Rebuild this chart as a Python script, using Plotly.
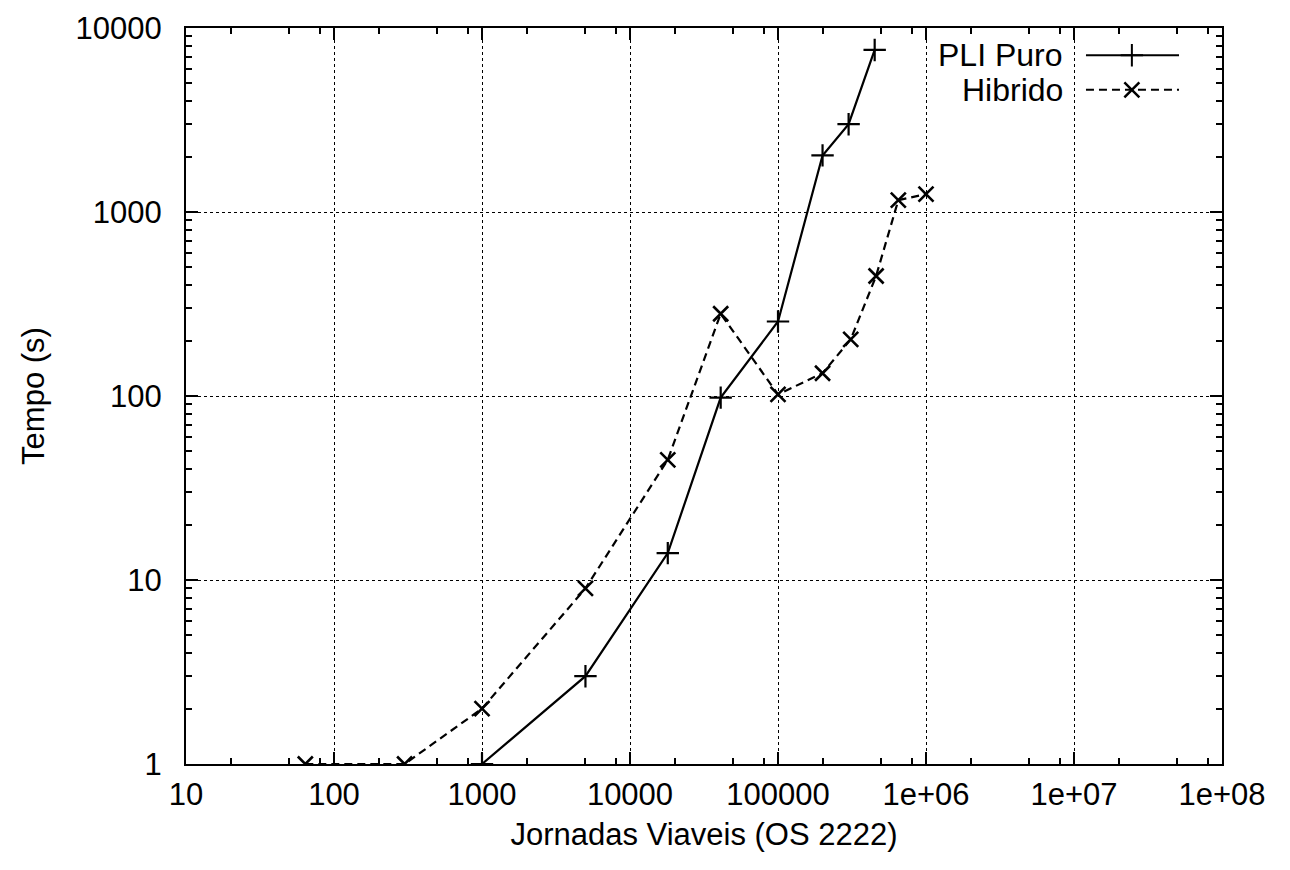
import plotly.graph_objects as go

# Data
pli_x = [1000, 5000, 18000, 41000, 100000, 200000, 300000, 450000]
pli_y = [1, 3, 14, 98, 254, 2030, 3000, 7600]

hib_x = [64, 300, 1000, 5000, 18000, 41000, 100000, 200000, 310000, 460000, 650000, 1000000]
hib_y = [1, 1, 2, 9, 45, 280, 102, 133, 203, 449, 1160, 1250]

x_tickvals = [10, 100, 1000, 10000, 100000, 1e6, 1e7, 1e8]
x_ticktext = ["10", "100", "1000", "10000", "100000", "1e+06", "1e+07", "1e+08"]
y_tickvals = [1, 10, 100, 1000, 10000]
y_ticktext = ["1", "10", "100", "1000", "10000"]

x_minor = [m * 10 ** k for k in range(1, 8) for m in (2, 5, 8)]
y_minor = [m * 10 ** k for k in range(0, 4) for m in range(2, 10)]

FONT = "Liberation Sans, Arial, Helvetica, sans-serif"
FS = 31

fig = go.Figure()

fig.add_trace(go.Scatter(
    x=pli_x, y=pli_y, mode="lines+markers", name="PLI Puro",
    line=dict(color="black", width=2.2),
    marker=dict(symbol="cross-thin", size=16, line=dict(color="black", width=2.2)),
    showlegend=False,
))
fig.add_trace(go.Scatter(
    x=hib_x, y=hib_y, mode="lines+markers", name="Hibrido",
    line=dict(color="black", width=2.2, dash="8px,5px"),
    marker=dict(symbol="x-thin", size=15, line=dict(color="black", width=2.6)),
    showlegend=False,
))

# Legend (gnuplot style: text, then sample) on overlay axes
leg_y = [0.963, 0.916]
fig.add_trace(go.Scatter(
    x=[0.8687, 0.9585], y=[leg_y[0], leg_y[0]], xaxis="x2", yaxis="y2",
    mode="lines", line=dict(color="black", width=2), showlegend=False, hoverinfo="skip"))
fig.add_trace(go.Scatter(
    x=[0.913], y=[leg_y[0]], xaxis="x2", yaxis="y2", mode="markers",
    marker=dict(symbol="cross-thin", size=16, line=dict(color="black", width=2)),
    showlegend=False, hoverinfo="skip"))
fig.add_trace(go.Scatter(
    x=[0.8687, 0.9585], y=[leg_y[1], leg_y[1]], xaxis="x2", yaxis="y2",
    mode="lines", line=dict(color="black", width=2, dash="8px,5px"), showlegend=False, hoverinfo="skip"))
fig.add_trace(go.Scatter(
    x=[0.913], y=[leg_y[1]], xaxis="x2", yaxis="y2", mode="markers",
    marker=dict(symbol="x-thin", size=15, line=dict(color="black", width=2.5)),
    showlegend=False, hoverinfo="skip"))

annotations = [
    dict(xref="paper", yref="paper", x=0.8485, y=leg_y[0], text="PLI Puro", showarrow=False,
         xanchor="right", yanchor="middle", font=dict(family=FONT, size=32, color="black")),
    dict(xref="paper", yref="paper", x=0.8485, y=leg_y[1], text="Hibrido", showarrow=False,
         xanchor="right", yanchor="middle", font=dict(family=FONT, size=32, color="black")),
]

shapes = [
    dict(type="rect", xref="paper", yref="paper", x0=0.708, x1=0.997, y0=0.89, y1=0.997,
         fillcolor="white", line=dict(width=0), layer="between"),
]

axis_common = dict(
    type="log", showline=True, linecolor="black", linewidth=2, mirror="allticks",
    ticks="inside", ticklen=12, tickwidth=1.5, tickcolor="black",
    showgrid=True, gridcolor="black", gridwidth=1.3, griddash="dot",
    zeroline=False, tickmode="array", ticklabeloverflow="allow", automargin=False,
    tickfont=dict(family=FONT, size=FS, color="black"),
)

fig.update_layout(
    width=1282, height=862,
    margin=dict(l=178, r=68, t=20, b=106),
    paper_bgcolor="white", plot_bgcolor="white",
    font=dict(family=FONT, size=FS, color="black"),
    xaxis=dict(
        **axis_common, range=[1, 8], tickvals=x_tickvals, ticktext=x_ticktext,
        ticklabelstandoff=2,
        minor=dict(tickmode="array", tickvals=x_minor, ticks="inside", ticklen=6,
                   tickwidth=1.5, tickcolor="black", showgrid=False),
        title=dict(text="Jornadas Viaveis (OS 2222)", standoff=12,
                   font=dict(family=FONT, size=FS, color="black")),
    ),
    yaxis=dict(
        **axis_common, range=[0, 4], tickvals=y_tickvals, ticktext=y_ticktext,
        ticklabelstandoff=16,
        minor=dict(tickmode="array", tickvals=y_minor, ticks="inside", ticklen=6,
                   tickwidth=1.5, tickcolor="black", showgrid=False),
        title=dict(text="Tempo (s)", standoff=22,
                   font=dict(family=FONT, size=FS, color="black")),
    ),
    xaxis2=dict(range=[0, 1], overlaying="x", visible=False, fixedrange=True),
    yaxis2=dict(range=[0, 1], overlaying="y", visible=False, fixedrange=True),
    annotations=annotations,
    shapes=shapes,
    showlegend=False,
)

fig.write_html("out.html")
